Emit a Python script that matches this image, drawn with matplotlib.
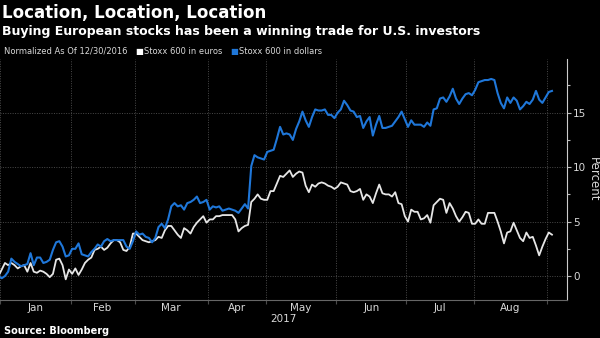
import numpy as np
import pandas as pd
import matplotlib
matplotlib.use("Agg")
import matplotlib.pyplot as plt
from matplotlib.ticker import FixedLocator, MultipleLocator

# trading days, Stoxx calendar (Good Friday, Easter Monday, May Day closed)
holidays = pd.to_datetime(["2017-04-14", "2017-04-17", "2017-05-01"])
dates = pd.bdate_range("2016-12-30", "2017-09-04")
dates = dates[~dates.isin(holidays)]

# percent change since 12/30/2016
stoxx_usd = [
    0.0, -0.2, 0.0, 0.4, 1.6, 1.3, 1.1, 0.9, 1.0, 1.1,
    2.1, 1.0, 1.7, 1.7, 1.2, 1.3, 1.5, 2.4, 3.1, 3.2,
    2.7, 1.8, 1.9, 2.5, 2.5, 3.0, 2.0, 1.9, 1.8, 2.2,
    2.5, 2.9, 2.7, 3.2, 3.4, 3.2, 3.3, 3.3, 3.3, 3.3,
    2.7, 2.5, 3.2, 4.1, 3.8, 3.9, 3.6, 3.5, 3.1, 3.5,
    4.5, 4.8, 4.4, 5.2, 6.4, 6.7, 6.4, 6.5, 6.1, 6.7,
    6.8, 7.0, 7.3, 6.7, 6.8, 7.0, 6.1, 6.4, 6.3, 6.4,
    6.0, 6.1, 6.2, 6.1, 6.0, 5.8, 6.2, 6.6, 6.2, 10.1,
    11.1, 10.9, 10.8, 10.7, 11.4, 11.5, 11.6, 12.6, 13.7, 13.0,
    13.1, 13.0, 12.5, 13.5, 14.2, 15.1, 14.3, 13.7, 14.6, 15.3,
    15.2, 15.2, 15.3, 14.8, 14.8, 14.5, 15.0, 15.3, 16.1, 15.7,
    15.2, 15.1, 14.6, 14.7, 13.6, 14.2, 14.6, 12.9, 13.9, 14.7,
    13.6, 13.6, 13.7, 13.8, 14.2, 14.6, 15.1, 14.4, 13.7, 14.3,
    13.9, 13.9, 13.9, 13.7, 14.1, 13.8, 15.3, 15.4, 16.3, 16.4,
    16.0, 16.5, 17.2, 16.3, 15.8, 16.3, 16.7, 16.8, 16.6, 17.1,
    17.8, 17.9, 18.0, 18.0, 18.1, 18.0, 16.8, 15.9, 15.4, 16.4,
    15.9, 16.4, 16.1, 15.3, 15.6, 16.0, 15.8, 16.2, 17.0, 16.2,
    15.9, 16.4, 16.9, 17.0,
]
stoxx_eur = [
    0.0, 0.6, 1.2, 1.0, 1.2, 1.0, 0.7, 0.9, 1.0, 0.4,
    1.2, 0.4, 0.3, 0.5, 0.4, 0.2, -0.1, 0.2, 1.5, 1.6,
    1.0, -0.3, 0.6, 0.2, 0.7, 0.1, 0.6, 1.2, 1.5, 1.7,
    2.4, 2.5, 2.7, 2.4, 2.6, 3.0, 3.3, 3.3, 3.1, 2.4,
    2.3, 2.7, 3.9, 3.9, 3.6, 3.3, 3.2, 3.1, 3.2, 3.3,
    3.6, 3.5, 4.2, 4.6, 4.6, 4.2, 3.8, 3.5, 4.4, 4.2,
    3.9, 4.5, 4.9, 5.2, 5.5, 4.9, 5.2, 5.2, 5.5, 5.5,
    5.6, 5.6, 5.6, 5.6, 5.2, 4.1, 4.4, 4.6, 4.7, 6.8,
    7.1, 7.5, 7.1, 7.0, 7.0, 7.8, 7.8, 8.5, 9.2, 9.1,
    9.4, 9.7, 9.1, 9.4, 9.6, 9.5, 8.3, 7.7, 8.4, 8.2,
    8.5, 8.6, 8.5, 8.3, 8.2, 8.0, 8.2, 8.6, 8.5, 8.4,
    7.8, 7.7, 7.8, 8.0, 7.0, 7.5, 7.3, 6.7, 7.6, 8.4,
    7.6, 7.5, 7.5, 7.3, 7.7, 6.7, 6.6, 5.5, 5.0, 6.1,
    5.9, 5.9, 5.2, 5.3, 5.6, 4.9, 6.5, 6.8, 7.1, 7.0,
    5.8, 6.7, 6.2, 5.5, 5.0, 5.4, 5.9, 5.8, 4.8, 4.8,
    5.2, 4.8, 4.8, 5.8, 5.8, 5.8, 5.0, 4.1, 3.0, 4.0,
    4.1, 4.9, 4.2, 3.5, 3.2, 4.0, 3.5, 3.6, 2.8, 1.9,
    2.7, 3.4, 4.0, 3.8,
]
month_names = ["Jan", "Feb", "Mar", "Apr", "May", "Jun", "Jul", "Aug"]

BLUE = "#1f77d9"
WHITE = "#e6e6e6"
GRID = "#4a4a4a"
TXT = "#d9d9d9"

fig = plt.figure(figsize=(6, 3.38), dpi=100, facecolor="black")
ax = fig.add_axes([0.0, 0.1124, 0.945, 0.713], facecolor="black")

x = np.arange(len(dates))
ax.plot(x, stoxx_eur, color=WHITE, lw=1.3)
ax.plot(x, stoxx_usd, color=BLUE, lw=1.5)

# month boundaries sit halfway between trading days
month_id = dates.year * 12 + dates.month
bounds = [i - 0.5 for i in range(1, len(dates)) if month_id[i] != month_id[i - 1]]
ax.set_xlim(0.45, 177.7)
ax.set_ylim(-2.2, 19.93)

ax.xaxis.set_major_locator(FixedLocator(bounds))
ax.set_xticklabels([])
ax.tick_params(axis="x", colors=GRID, length=3, width=0.8, direction="out")
centers = [(bounds[i] + bounds[i + 1]) / 2 for i in range(len(month_names))]
for c, m in zip(centers, month_names):
    ax.text(c, -0.012, m, transform=ax.get_xaxis_transform(), ha="center",
            va="top", color=TXT, fontsize=7.5)
ax.text(0.5, -0.06, "2017", transform=ax.transAxes, ha="center", va="top",
        color=TXT, fontsize=7.5)

ax.yaxis.tick_right()
ax.yaxis.set_major_locator(MultipleLocator(5))
ax.yaxis.set_minor_locator(MultipleLocator(2.5))
ax.tick_params(axis="y", which="major", colors="#bbbbbb", labelcolor=TXT,
               length=3, width=0.8, labelsize=7.5, pad=1.5)
ax.tick_params(axis="y", which="minor", colors="#bbbbbb", length=2, width=0.8)
ax.text(1.046, 0.5, "Percent", transform=ax.transAxes, rotation=270,
        ha="center", va="center", color=TXT, fontsize=8.5)

ax.grid(True, which="major", color=GRID, ls=(0, (1, 1.5)), lw=0.7)
for side in ["top", "left"]:
    ax.spines[side].set_visible(False)
ax.spines["bottom"].set_color("#666666")
ax.spines["right"].set_color("#cccccc")

fig.text(0.004, 0.962, "Location, Location, Location", color="white",
         fontsize=12, fontweight="bold", va="center", ha="left")
fig.text(0.004, 0.908, "Buying European stocks has been a winning trade for U.S. investors",
         color="white", fontsize=9, fontweight="bold", va="center", ha="left")

fig.text(0.006, 0.849, "Normalized As Of 12/30/2016", color=TXT, fontsize=6.0,
         va="center", ha="left")
fig.text(0.226, 0.849, "\u25a0", color="white", fontsize=6, va="center", ha="left")
fig.text(0.240, 0.849, "Stoxx 600 in euros", color=TXT, fontsize=6.0,
         va="center", ha="left")
fig.text(0.384, 0.849, "\u25a0", color=BLUE, fontsize=6, va="center", ha="left")
fig.text(0.398, 0.849, "Stoxx 600 in dollars", color=TXT, fontsize=6.0,
         va="center", ha="left")

fig.text(0.006, 0.006, "Source: Bloomberg", color="white", fontsize=7,
         fontweight="bold", va="bottom", ha="left")

fig.savefig("out.png", dpi=100, facecolor="black")
